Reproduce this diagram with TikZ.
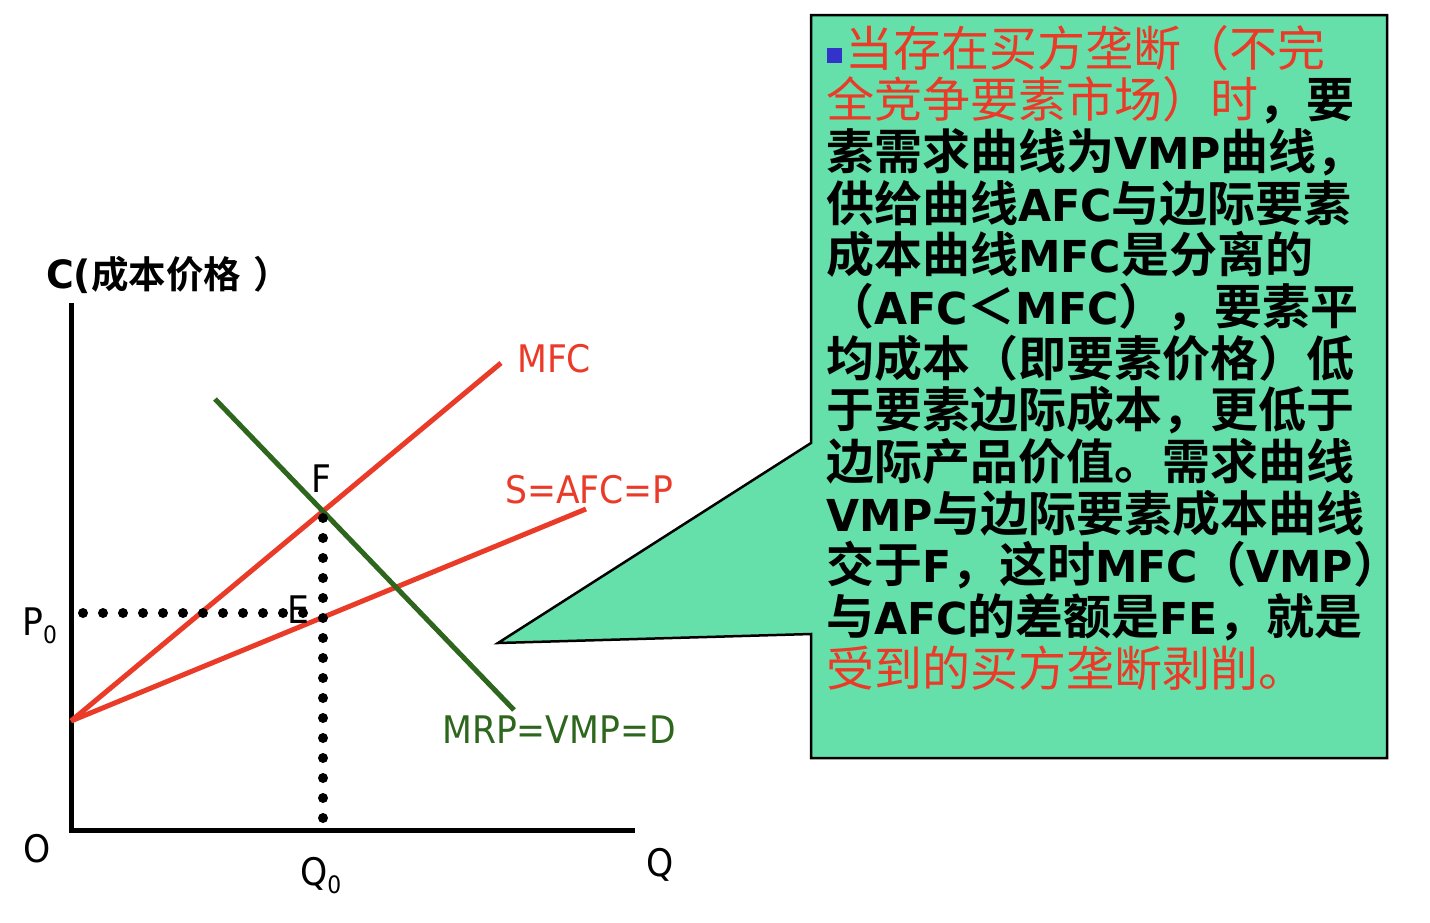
\documentclass[tikz,border=0pt]{standalone}
\usepackage{fontspec}
\setmainfont{DejaVu Sans}
\newfontfamily\cjk{Noto Sans CJK SC}
\newfontfamily\cjkb{Noto Sans CJK SC Bold}
\newfontfamily\lat[FakeStretch=0.91]{DejaVu Sans}
\newfontfamily\latb[FakeStretch=0.97]{DejaVu Sans Bold}
\definecolor{myred}{RGB}{234,58,40}
\definecolor{mygreen}{RGB}{45,102,28}
\definecolor{boxgreen}{RGB}{102,224,170}
\definecolor{bulletblue}{RGB}{51,51,204}
\newcommand\R[1]{{\color{myred}\cjk #1}}
\newcommand\LB[1]{{\latb\fontsize{44}{44}\selectfont #1}}
\newcommand\sub[1]{\raisebox{-8pt}{\fontsize{24}{24}\selectfont #1}}
\begin{document}
\begin{tikzpicture}[x=1pt,y=-1pt,
  boxline/.style={anchor=base west,inner sep=0pt,font=\fontsize{48}{48}\selectfont\cjkb},
  lab/.style={anchor=base west,inner sep=0pt,font=\fontsize{38}{38}\selectfont\lat},
  axisline/.style={line width=5pt,line join=miter},
  redline/.style={line width=5pt,myred},
  greenline/.style={line width=5pt,mygreen},
  dotline/.style={line width=10pt,line cap=round,dash pattern=on 0pt off 20pt}]
\useasboundingbox (0,0) rectangle (1430,922);
% callout box
\draw[fill=boxgreen,line width=2.5pt,line join=miter]
  (811,15) -- (1387,15) -- (1387,758) -- (811,758) -- (811,634) -- (498,643) -- (811,443) -- cycle;
\node[fill=bulletblue,minimum size=15pt,inner sep=0pt] (bul) at (834,55) {};
\node[boxline] (t1) at (845,66) {\R{当存在买方垄断（不完}};
\node[boxline] (t2) at (826,117.7) {\R{全竞争要素市场）时}，要};
\node[boxline] (t3) at (826,169.3) {素需求曲线为\LB{VMP}曲线，};
\node[boxline] (t4) at (826,221) {供给曲线\LB{AFC}与边际要素};
\node[boxline] (t5) at (826,272.7) {成本曲线\LB{MFC}是分离的};
\node[boxline] (t6) at (826,324.3) {（\LB{AFC}＜\LB{MFC}），要素平};
\node[boxline] (t7) at (826,376) {均成本（即要素价格）低};
\node[boxline] (t8) at (826,427.7) {于要素边际成本，更低于};
\node[boxline] (t9) at (826,479.3) {边际产品价值。需求曲线};
\node[boxline] (t10) at (826,531) {\LB{VMP}与边际要素成本曲线};
\node[boxline] (t11) at (826,582.7) {交于\LB{F}，这时\LB{MFC}（\LB{VMP}）};
\node[boxline] (t12) at (826,634.3) {与\LB{AFC}的差额是\LB{FE}，就是};
\node[boxline] (t13) at (826,686) {\R{受到的买方垄断剥削。}};
% axes
\coordinate (ytop) at (71,303);
\coordinate (orig) at (71,830.5);
\coordinate (xend) at (635,830.5);
\draw[axisline] (ytop) -- (orig) -- (xend);
% curves
\coordinate (start) at (71,721);
\coordinate (mfcend) at (501,363);
\coordinate (afcend) at (586,509);
\coordinate (vmptop) at (215,399);
\coordinate (vmpend) at (514,710);
\draw[redline] (start) -- (mfcend);
\draw[redline] (start) -- (afcend);
\draw[greenline] (vmptop) -- (vmpend);
% dotted guides
\coordinate (pd) at (83,613);
\coordinate (ed) at (304,613);
\coordinate (fd) at (323,518);
\coordinate (qd) at (323,820);
\draw[dotline] (pd) -- (ed);
\draw[dotline] (fd) -- (qd);
% labels
\node[anchor=base west,inner sep=0pt] (ylab) at (46,288)
  {{\latb\fontsize{39}{39}\selectfont C(}{\cjkb\fontsize{37.5}{37.5}\selectfont 成本价格\hspace{12pt}）}};
\node[lab,myred] (lmfc) at (517,372) {MFC};
\node[lab,myred] (lafc) at (505,503) {S=AFC=P};
\node[lab] (lF) at (311,492) {F};
\node[lab] (lE) at (287,623) {E};
\node[lab] (lP) at (22,635) {P\sub{0}};
\node[lab] (lO) at (23,862) {O};
\node[lab] (lQ0) at (300,885) {Q\sub{0}};
\node[lab] (lQ) at (646,876) {Q};
\node[lab,mygreen] (lvmp) at (442,743) {MRP=VMP=D};
\end{tikzpicture}
\end{document}
